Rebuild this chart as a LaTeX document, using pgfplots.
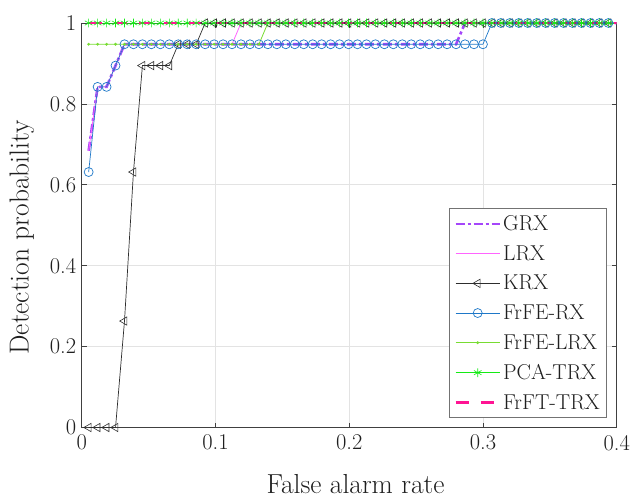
\documentclass[border=0pt]{standalone}
\usepackage{pgfplots}
\usepackage{pgfplotstable}
\pgfplotsset{compat=1.18}

\definecolor{grxc}{RGB}{165,70,250}
\definecolor{lrxc}{RGB}{255,100,255}
\definecolor{krxc}{RGB}{45,45,45}
\definecolor{frferxc}{RGB}{30,120,200}
\definecolor{frfelrxc}{RGB}{120,220,50}
\definecolor{pcac}{RGB}{20,235,20}
\definecolor{frftc}{RGB}{255,20,147}

% ROC samples: false alarm rate and detection probability of each detector
\pgfplotstableread{
x      grx    lrx    krx    frferx frfelrx pca frft
0.0052 0.6842 0.6842 0      0.6316 0.9474  1   1
0.0119 0.8421 0.8421 0      0.8421 0.9474  1   1
0.0186 0.8421 0.8421 0      0.8421 0.9474  1   1
0.0253 0.8947 0.8947 0      0.8947 0.9474  1   1
0.0320 0.9474 0.9474 0.2632 0.9474 0.9474  1   1
0.0387 0.9474 0.9474 0.6316 0.9474 0.9474  1   1
0.0454 0.9474 0.9474 0.8947 0.9474 0.9474  1   1
0.0521 0.9474 0.9474 0.8947 0.9474 0.9474  1   1
0.0588 0.9474 0.9474 0.8947 0.9474 0.9474  1   1
0.0655 0.9474 0.9474 0.8947 0.9474 0.9474  1   1
0.0722 0.9474 0.9474 0.9474 0.9474 0.9474  1   1
0.0789 0.9474 0.9474 0.9474 0.9474 0.9474  1   1
0.0856 0.9474 0.9474 0.9474 0.9474 0.9474  1   1
0.0923 0.9474 0.9474 1      0.9474 0.9474  1   1
0.0990 0.9474 0.9474 1      0.9474 0.9474  1   1
0.1057 0.9474 0.9474 1      0.9474 0.9474  1   1
0.1124 0.9474 0.9474 1      0.9474 0.9474  1   1
0.1191 0.9474 1      1      0.9474 0.9474  1   1
0.1258 0.9474 1      1      0.9474 0.9474  1   1
0.1325 0.9474 1      1      0.9474 0.9474  1   1
0.1392 0.9474 1      1      0.9474 1       1   1
0.1459 0.9474 1      1      0.9474 1       1   1
0.1526 0.9474 1      1      0.9474 1       1   1
0.1593 0.9474 1      1      0.9474 1       1   1
0.1660 0.9474 1      1      0.9474 1       1   1
0.1727 0.9474 1      1      0.9474 1       1   1
0.1794 0.9474 1      1      0.9474 1       1   1
0.1861 0.9474 1      1      0.9474 1       1   1
0.1928 0.9474 1      1      0.9474 1       1   1
0.1995 0.9474 1      1      0.9474 1       1   1
0.2062 0.9474 1      1      0.9474 1       1   1
0.2129 0.9474 1      1      0.9474 1       1   1
0.2196 0.9474 1      1      0.9474 1       1   1
0.2263 0.9474 1      1      0.9474 1       1   1
0.2330 0.9474 1      1      0.9474 1       1   1
0.2397 0.9474 1      1      0.9474 1       1   1
0.2464 0.9474 1      1      0.9474 1       1   1
0.2531 0.9474 1      1      0.9474 1       1   1
0.2598 0.9474 1      1      0.9474 1       1   1
0.2665 0.9474 1      1      0.9474 1       1   1
0.2732 0.9474 1      1      0.9474 1       1   1
0.2799 0.9474 1      1      0.9474 1       1   1
0.2866 1      1      1      0.9474 1       1   1
0.2933 1      1      1      0.9474 1       1   1
0.3000 1      1      1      0.9474 1       1   1
0.3067 1      1      1      1      1       1   1
0.3134 1      1      1      1      1       1   1
0.3201 1      1      1      1      1       1   1
0.3268 1      1      1      1      1       1   1
0.3335 1      1      1      1      1       1   1
0.3402 1      1      1      1      1       1   1
0.3469 1      1      1      1      1       1   1
0.3536 1      1      1      1      1       1   1
0.3603 1      1      1      1      1       1   1
0.3670 1      1      1      1      1       1   1
0.3737 1      1      1      1      1       1   1
0.3804 1      1      1      1      1       1   1
0.3871 1      1      1      1      1       1   1
0.3938 1      1      1      1      1       1   1
0.4005 1      1      1      1      1       1   1
}\roc

\begin{document}
\begin{tikzpicture}
\path[use as bounding box] (-81.7pt,-70.5pt) rectangle (550.3pt,427.5pt);
\begin{axis}[
  at={(0,0)}, anchor=south west,
  scale only axis,
  width=535pt, height=404.5pt,
  xmin=0, xmax=0.4, ymin=0, ymax=1,
  xtick={0,0.1,0.2,0.3,0.4},
  ytick={0,0.2,0.4,0.6,0.8,1},
  tick align=inside,
  major tick length=5pt,
  xtick pos=both, ytick pos=both,
  /pgf/number format/assume math mode=true,
  /pgf/number format/fixed,
  tick label style={font=\fontsize{22.5}{26}\selectfont, text=black!88},
  xticklabel style={yshift=-4pt},
  yticklabel style={xshift=-2pt},
  grid=major,
  major grid style={gray!22, line width=0.6pt},
  axis line style={black!75, line width=0.7pt},
  tick style={black!75, line width=0.7pt},
  xlabel={False alarm rate},
  ylabel={Detection probability},
  label style={font=\fontsize{27.5}{32}\selectfont, text=black!88},
  xlabel style={at={(axis description cs:0.512,-0.14)}, anchor=center},
  ylabel style={at={(axis description cs:-0.112,0.47)}, anchor=center},
  legend cell align=left,
  legend style={
    at={(axis description cs:0.982,0.0235)}, anchor=south east,
    font=\fontsize{21.5}{25}\selectfont,
    draw=black!55, line width=0.6pt, fill=white,
    row sep=9.5pt, inner xsep=5pt, inner ysep=5pt,
    text=black!88,
  },
  legend image code/.code={
    \draw[mark repeat=2, mark phase=2] plot coordinates {(0pt,0pt) (22pt,0pt) (44pt,0pt)};
  },
]
\addplot[color=grxc, line width=2.6pt, dash pattern=on 9pt off 3pt on 3pt off 3pt] table[x=x, y=grx] {\roc};
\addlegendentry{GRX}
\addplot[color=lrxc, line width=0.8pt] table[x=x, y=lrx] {\roc};
\addlegendentry{LRX}
\addplot[color=krxc, line width=0.7pt, mark=triangle, mark size=4.8pt,
  mark options={rotate=90, solid, line width=0.6pt, fill=none}] table[x=x, y=krx] {\roc};
\addlegendentry{KRX}
\addplot[color=frferxc, line width=0.7pt, mark=o, mark size=4.5pt,
  mark options={solid, line width=0.7pt}] table[x=x, y=frferx] {\roc};
\addlegendentry{FrFE-RX}
\addplot[color=frfelrxc, line width=0.8pt, mark=*, mark size=1.0pt] table[x=x, y=frfelrx] {\roc};
\addlegendentry{FrFE-LRX}
\addplot[color=pcac, line width=0.8pt, mark=asterisk, mark size=4.4pt,
  mark options={line width=0.6pt}] table[x=x, y=pca] {\roc};
\addlegendentry{PCA-TRX}
\addplot[color=frftc, line width=3pt, dash pattern=on 13pt off 12pt] table[x=x, y=frft] {\roc};
\addlegendentry{FrFT-TRX}
\end{axis}
\end{tikzpicture}
\end{document}
